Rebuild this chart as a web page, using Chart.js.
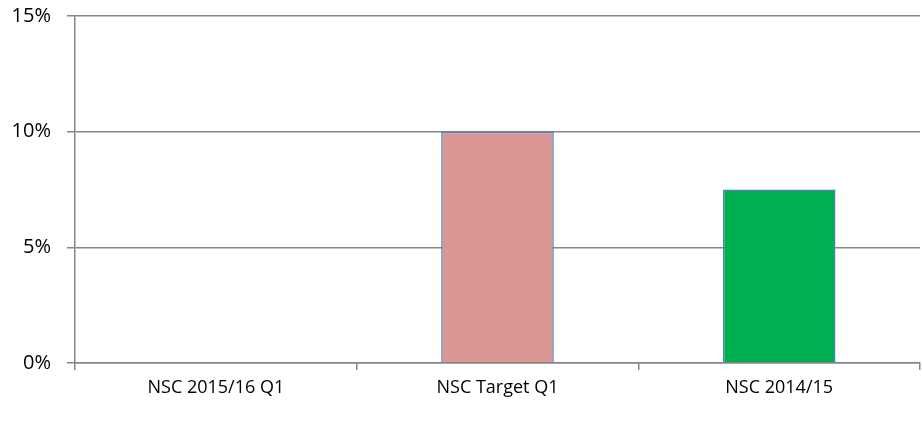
<!DOCTYPE html>
<html>
<head>
<meta charset="utf-8">
<script src="https://cdn.jsdelivr.net/npm/chart.js@4"></script>
<style>
  html, body { margin: 0; padding: 0; background: #fff; }
  #wrap { width: 922px; height: 426px; }
</style>
</head>
<body>
<div id="wrap"><canvas id="chart"></canvas></div>
<script>
const categories = ['NSC 2015/16 Q1', 'NSC Target Q1', 'NSC 2014/15'];
const values = [0, 10, 7.5];
const barColors = ['#4F81BD', '#D99694', '#00B050'];
const yTicks = [0, 5, 10, 15];

const gridColor = '#868686';

const config = {
  type: 'bar',
  data: {
    labels: categories,
    datasets: [{
      data: values,
      backgroundColor: barColors,
      borderColor: '#4F81BD',
      borderWidth: 1.5,
      barPercentage: 0.4,
      categoryPercentage: 1
    }]
  },
  options: {
    responsive: true,
    maintainAspectRatio: false,
    animation: false,
    layout: { padding: { top: 16, right: 2, left: 0, bottom: 0 } },
    plugins: {
      legend: { display: false },
      tooltip: { enabled: false }
    },
    scales: {
      x: {
        offset: true,
        grid: {
          offset: true,
          drawOnChartArea: false,
          color: gridColor,
          lineWidth: 1.5,
          tickLength: 7
        },
        border: { color: gridColor, width: 1.5 },
        ticks: {
          color: '#000',
          padding: 7,
          font: { family: 'Open Sans', size: 18 }
        },
        afterFit: (scale) => { scale.height = 63; scale.paddingLeft = 0; scale.paddingRight = 0; }
      },
      y: {
        min: 0,
        max: 15,
        afterBuildTicks: (scale) => { scale.ticks = yTicks.map(v => ({ value: v })); },
        grid: {
          color: gridColor,
          lineWidth: 1.5,
          tickLength: 8
        },
        border: { color: gridColor, width: 1.5 },
        ticks: {
          color: '#000',
          padding: 16,
          font: { family: 'Open Sans', size: 20 },
          callback: (value) => `${value}%`
        },
        afterFit: (scale) => { scale.width = 75; scale.paddingTop = 0; scale.paddingBottom = 0; }
      }
    }
  }
};

new Chart(document.getElementById('chart'), config);
</script>
</body>
</html>
